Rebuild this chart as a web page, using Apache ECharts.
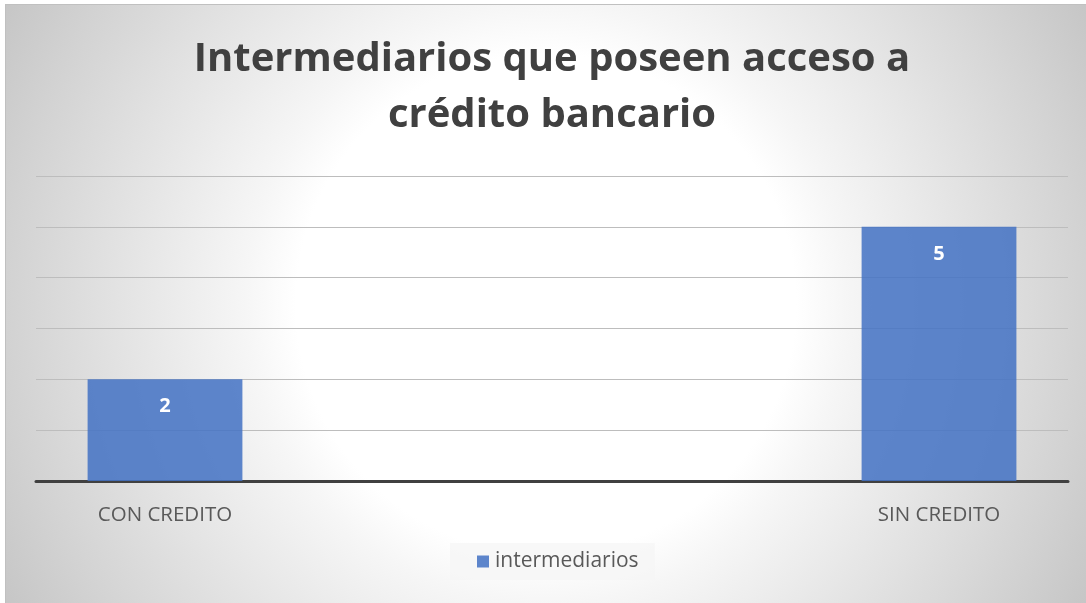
<!DOCTYPE html>
<html>
<head>
<meta charset="utf-8">
<script src="https://cdn.jsdelivr.net/npm/echarts@6/dist/echarts.min.js"></script>
<style>
  html, body { margin: 0; padding: 0; background: #ffffff; }
  #chart {
    position: absolute; left: 5px; top: 4px; width: 1080px; height: 598px;
    border-top: 1px solid #c0c0c0; border-left: 1px solid #c0c0c0;
    background: radial-gradient(circle 630px at 50% 50%, #ffffff 0px, #ffffff 250px, #f6f6f6 300px, #d2d2d2 540px, #c4c4c4 630px);
  }
</style>
</head>
<body>
<div id="chart"></div>
<script>
// Categories (two spacer slots keep the bars at the outer quarters)
const categories = ['CON CREDITO', '', '', 'SIN CREDITO'];
const intermediarios = [2, null, null, 5];
const seriesName = 'intermediarios';
const titleText = 'Intermediarios que poseen acceso a\ncrédito bancario';

const font = '"Open Sans", "Noto Sans", sans-serif';
const chart = echarts.init(document.getElementById('chart'));
chart.setOption({
  backgroundColor: 'transparent',
  textStyle: { fontFamily: font },
  title: {
    text: titleText,
    left: 541, top: 22, textAlign: 'center',
    textStyle: { fontFamily: font, fontSize: 40, fontWeight: 'bold', color: '#404040', lineHeight: 56 }
  },
  legend: {
    top: 538, left: 444,
    itemWidth: 12, itemHeight: 12, itemGap: 10,
    padding: [8, 16, 8, 27],
    backgroundColor: 'rgba(246,246,246,0.75)',
    icon: 'rect',
    textStyle: { fontFamily: font, fontSize: 21, color: '#595959', padding: [0, 0, 0, 1] },
    data: [seriesName]
  },
  grid: { left: 30, right: 18, top: 171, bottom: 122 },
  xAxis: {
    type: 'category', data: categories,
    axisLine: { lineStyle: { color: '#404040', width: 3 } },
    axisTick: { show: false },
    axisLabel: { fontSize: 20.5, color: '#595959', margin: 24, fontFamily: font }
  },
  yAxis: {
    type: 'value', min: 0, max: 6, interval: 1,
    axisLabel: { show: false }, axisLine: { show: false }, axisTick: { show: false },
    splitLine: { lineStyle: { color: '#bdbdbd', width: 1 } }
  },
  series: [{
    name: seriesName, type: 'bar', data: intermediarios, barWidth: '60%',
    itemStyle: { color: 'rgba(68,114,196,0.86)' },
    label: {
      show: true, position: 'insideTop', distance: 17,
      color: '#ffffff', fontSize: 20, fontWeight: 'bold', fontFamily: font
    }
  }]
});
</script>
</body>
</html>
